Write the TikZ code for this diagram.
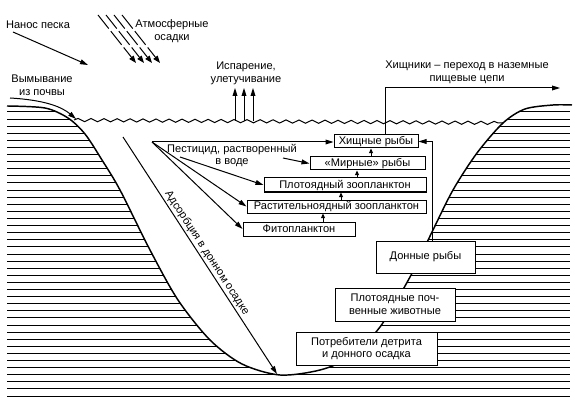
\documentclass[tikz,border=0pt]{standalone}
\usepackage{fontspec}
\setmainfont{Liberation Sans}
\usetikzlibrary{arrows.meta,decorations.pathmorphing}

\begin{document}
\begin{tikzpicture}[x=0.75pt,y=0.75pt,yscale=-1,
  font=\fontsize{8.3}{9.6}\selectfont, line width=0.75pt,
  blk/.style={draw,fill=white,inner sep=0pt,align=center},
  lbl/.style={align=center,inner sep=0pt},
  arr/.style={-{Triangle[length=6pt,width=3.6pt]}},
  uparr/.style={-{Triangle[length=3.5pt,width=3pt]}},
  rain/.style={-{Triangle[length=5.5pt,width=4pt]},dash pattern=on 13pt off 2.5pt}]
\useasboundingbox (0,0) rectangle (578,406);

%Hatched ground
\begin{scope}
\clip plot[smooth] coordinates {(7,106) (45,108) (68,118) (85,134) (102,160) (120,190) (150,250) (178,300) (210,340) (242,364) (280,375) (320,370) (350,357) (380,327) (410,277) (432,232) (453,190) (477,153) (503,123) (525,109) (553,105) (572,105)} -- (572,400) -- (7,400) -- cycle;
\foreach \k in {0,...,40}
  \draw (7,112+7.1*\k) -- (570,112+7.1*\k);
\end{scope}
%Bank
\draw[line width=1.1pt] plot[smooth] coordinates {(7,106) (45,108) (68,118) (85,134) (102,160) (120,190) (150,250) (178,300) (210,340) (242,364) (280,375) (320,370) (350,357) (380,327) (410,277) (432,232) (453,190) (477,153) (503,123) (525,109) (553,105) (572,105)};

%Water surface
\coordinate (wl) at (74,120);
\coordinate (wr) at (503,123);
\draw[decorate,decoration={snake,segment length=9.75pt,amplitude=1.2pt}] (wl) -- (wr);

%Food chain boxes
\node[blk,minimum width=63pt,minimum height=9.75pt] (hish) at (376,141.5) {Хищные рыбы};
\node[blk,minimum width=86.25pt,minimum height=9.75pt] (mir) at (367.5,163.5) {«Мирные» рыбы};
\node[blk,minimum width=121.5pt,minimum height=10.5pt] (plot) at (345,185) {Плотоядный зоопланктон};
\node[blk,minimum width=134.25pt,minimum height=9.75pt] (rast) at (336.5,206.5) {Растительноядный зоопланктон};
\node[blk,minimum width=84pt,minimum height=10.5pt] (fito) at (299,229) {Фитопланктон};
\node[blk,minimum width=74.25pt,minimum height=24pt] (don) at (425.5,257) {Донные рыбы};
\node[blk,minimum width=90pt,minimum height=24.75pt] (pochv) at (395,304.5) {Плотоядные поч-\\венные животные};
\node[blk,minimum width=105.75pt,minimum height=24.75pt] (potr) at (366.5,348.5) {Потребители детрита\\и донного осадка};

%Arrows up the chain
\coordinate (a1) at (323,0);
\coordinate (a2) at (341,0);
\coordinate (a3) at (357,0);
\coordinate (a4) at (371,0);
\draw[uparr] (fito.north -| a1) -- (rast.south -| a1);
\draw[uparr] (rast.north -| a2) -- (plot.south -| a2);
\draw[uparr] (plot.north -| a3) -- (mir.south -| a3);
\draw[uparr] (mir.north -| a4) -- (hish.south -| a4);

%Labels
\node[lbl] (nanos) at (38,25) {Нанос песка};
\node[lbl] (atm) at (172,31) {Атмосферные\\осадки};
\node[lbl] (vym) at (42,85.5) {Вымывание\\из почвы};
\node[lbl] (isp) at (246,73) {Испарение,\\улетучивание};
\node[lbl] (hishn) at (467,72) {Хищники – переход в наземные\\пищевые цепи};
\node[lbl] (pesttxt) at (232,155.5) {Пестицид, растворенный\\в воде};
\node[lbl,rotate=-57] (adsorb) at (207,253) {Адсорбция в донном осадке};

%Sand
\coordinate (n1) at (13,32);
\coordinate (n2) at (88,65);
\draw[arr] (n1) -- (n2);

%Rain
\foreach \i in {0,...,3}
  \draw[rain] (98+8*\i,15) -- (136+8*\i,63);

%Wash-out from soil
\coordinate (v1) at (10,98);
\coordinate (v2) at (76,119);
\draw[arr] (v1) .. controls (45,100) and (62,107) .. (v2);

%Evaporation
\foreach \x in {235,244,253}
  \draw[arr] (\x,121) -- (\x,88);

%Predators to land chains
\coordinate (h1) at (385,88);
\coordinate (h2) at (560,88);
\draw[arr] (hish.north -| h1) -- (h1) -- (h2);

%Bottom fish to predators
\coordinate (d1) at (432,141.5);
\draw[arr] (don.north -| d1) -- (d1) -- (hish.east);

%Pesticide paths
\coordinate (pest) at (152,142);
\draw[arr] (pest) -- (pest -| hish.west);
\draw[arr] (pest) -- (rast.west);
\draw[arr] (pest) -- (fito.west);
\coordinate (p1) at (283,158);
\coordinate (p2) at (180,157);
\draw[arr] (p1) -- (mir.west);
\draw[arr] (p2) -- (plot.west);

%Adsorption
\coordinate (s1) at (123,137);
\coordinate (s2) at (277,374);
\draw[arr] (s1) -- (s2);

\end{tikzpicture}
\end{document}
